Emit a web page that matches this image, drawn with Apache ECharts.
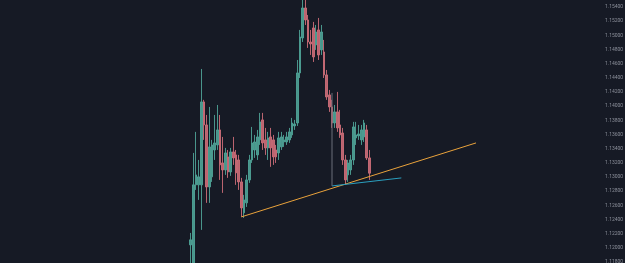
<!DOCTYPE html>
<html>
<head>
<meta charset="utf-8">
<script src="https://cdn.jsdelivr.net/npm/echarts@6/dist/echarts.min.js"></script>
<style>
  html, body { margin: 0; padding: 0; background: #161a25; }
  #main { width: 625px; height: 263px; }
</style>
</head>
<body>
<div id="main"></div>
<script>
// bars on screen (visible range, most of them empty future space)
var barCount = 222;
var firstBar = 71;

var opens = [1.12042, 1.11700, 1.12889, 1.12889, 1.12889, 1.14060, 1.13735, 1.12860, 1.13002, 1.13382,
  1.13453, 1.13665, 1.13199, 1.13100, 1.13284, 1.13072, 1.13354, 1.13312, 1.13241, 1.12931,
  1.12494, 1.12635, 1.12959, 1.13241, 1.13382, 1.13312, 1.13524, 1.13806, 1.13524, 1.13411,
  1.13566, 1.13524, 1.13382, 1.13340, 1.13425, 1.13495, 1.13495, 1.13524, 1.13594, 1.13721,
  1.13763, 1.14469, 1.14963, 1.15386, 1.15217, 1.14906, 1.15104, 1.14864, 1.15076, 1.14794,
  1.14765, 1.14441, 1.14159, 1.13989, 1.13763, 1.13919, 1.13735, 1.13622, 1.13241, 1.13030,
  1.13100, 1.13241, 1.13552, 1.13580, 1.13524, 1.13566, 1.13665, 1.13270];
var closes = [1.12113, 1.12889, 1.13030, 1.13002, 1.14060, 1.13735, 1.12860, 1.13425, 1.13453, 1.13481,
  1.13665, 1.13171, 1.13100, 1.13340, 1.13072, 1.13354, 1.13270, 1.13058, 1.12931, 1.12564,
  1.12677, 1.12959, 1.13241, 1.13481, 1.13495, 1.13566, 1.13778, 1.13481, 1.13411, 1.13552,
  1.13411, 1.13284, 1.13284, 1.13552, 1.13566, 1.13524, 1.13566, 1.13637, 1.13763, 1.13749,
  1.14469, 1.14977, 1.15386, 1.15217, 1.14906, 1.14878, 1.14695, 1.15047, 1.14723, 1.15047,
  1.14441, 1.14130, 1.13989, 1.13763, 1.13919, 1.13693, 1.13594, 1.13241, 1.12959, 1.13199,
  1.13241, 1.13707, 1.13594, 1.13608, 1.13665, 1.13763, 1.13270, 1.13054];
var lows = [1.11746, 1.11619, 1.12818, 1.12677, 1.12254, 1.13524, 1.12635, 1.12635, 1.12931, 1.13241,
  1.13382, 1.12959, 1.12776, 1.13030, 1.12988, 1.13016, 1.13171, 1.12889, 1.12818, 1.12437,
  1.12423, 1.12578, 1.12917, 1.13199, 1.13270, 1.13241, 1.13453, 1.13382, 1.13312, 1.13241,
  1.13143, 1.13171, 1.13199, 1.13241, 1.13382, 1.13425, 1.13453, 1.13481, 1.13552, 1.13665,
  1.13721, 1.14398, 1.14906, 1.15146, 1.14822, 1.14723, 1.14624, 1.14794, 1.14652, 1.14723,
  1.14398, 1.14089, 1.13919, 1.13693, 1.13693, 1.13637, 1.13552, 1.13171, 1.12889, 1.12931,
  1.13030, 1.13171, 1.13453, 1.13524, 1.13453, 1.13495, 1.13241, 1.12959];
var highs = [1.12211, 1.13340, 1.13637, 1.13241, 1.14525, 1.14089, 1.13876, 1.13989, 1.13524, 1.13876,
  1.14017, 1.13876, 1.13566, 1.13411, 1.13382, 1.13411, 1.13566, 1.13382, 1.13312, 1.12988,
  1.12748, 1.13030, 1.13312, 1.13707, 1.13594, 1.13665, 1.13905, 1.13905, 1.13693, 1.13637,
  1.13693, 1.13594, 1.13453, 1.13637, 1.13637, 1.13594, 1.13637, 1.13693, 1.13834, 1.13806,
  1.14652, 1.15076, 1.15499, 1.15499, 1.15287, 1.15076, 1.15189, 1.15146, 1.15245, 1.15146,
  1.14935, 1.14511, 1.14229, 1.14089, 1.14017, 1.14201, 1.13947, 1.13693, 1.13312, 1.13241,
  1.13312, 1.13778, 1.13778, 1.13735, 1.13735, 1.13806, 1.13735, 1.13382];

var lastPrice = 1.13054;

// drawings: [bar index, price]
var orangeTrend = [[90, 1.12437], [178, 1.13481]];
var cyanTrend = [[124, 1.12874], [150, 1.12987]];
var grayLeg = [[124, 1.14187], [124, 1.12874]];

var cats = [];
var candles = [];
for (var i = 0; i < barCount; i++) {
  cats.push(i);
  var k = i - firstBar;
  if (k >= 0 && k < opens.length) {
    candles.push([opens[k], closes[k], lows[k], highs[k]]);
  } else {
    candles.push('-');
  }
}

var chart = echarts.init(document.getElementById('main'));
chart.setOption({
  backgroundColor: '#161a25',
  animation: false,
  grid: { left: 0, right: 33, top: -7.2, bottom: -13.2, outerBoundsMode: 'none', containLabel: false },
  xAxis: {
    type: 'category',
    data: cats,
    show: false
  },
  yAxis: {
    type: 'value',
    position: 'right',
    min: 1.116,
    max: 1.156,
    interval: 0.002,
    splitLine: { show: false },
    axisLine: { show: false },
    axisTick: { show: false },
    axisLabel: {
      color: '#8b8f9a',
      fontSize: 5,
      fontFamily: 'Roboto',
      margin: 13,
      formatter: function (v) { return v.toFixed(5); }
    }
  },
  series: [
    {
      type: 'candlestick',
      data: candles,
      barWidth: 2,
      itemStyle: {
        color: '#4fa397',
        color0: '#cc6d78',
        borderColor: '#4fa397',
        borderColor0: '#cc6d78',
        borderWidth: 1,
        opacity: 0.9
      },
      markLine: {
        silent: true,
        symbol: 'none',
        lineStyle: { opacity: 0 },
        data: [{ yAxis: lastPrice }],
        label: {
          position: 'end',
          distance: 11,
          formatter: lastPrice.toFixed(5),
          color: '#ffffff',
          fontSize: 5,
          fontFamily: 'Roboto',
          backgroundColor: '#f23645',
          padding: [2, 2, 1, 2]
        }
      }
    },
    {
      type: 'line',
      data: orangeTrend,
      symbol: 'none',
      lineStyle: { color: '#e9a23b', width: 1 }
    },
    {
      type: 'line',
      data: cyanTrend,
      symbol: 'none',
      lineStyle: { color: '#2a9fbf', width: 1 }
    },
    {
      type: 'line',
      data: grayLeg,
      symbol: 'none',
      lineStyle: { color: '#6b6f7a', width: 1 }
    }
  ]
});
</script>
</body>
</html>
